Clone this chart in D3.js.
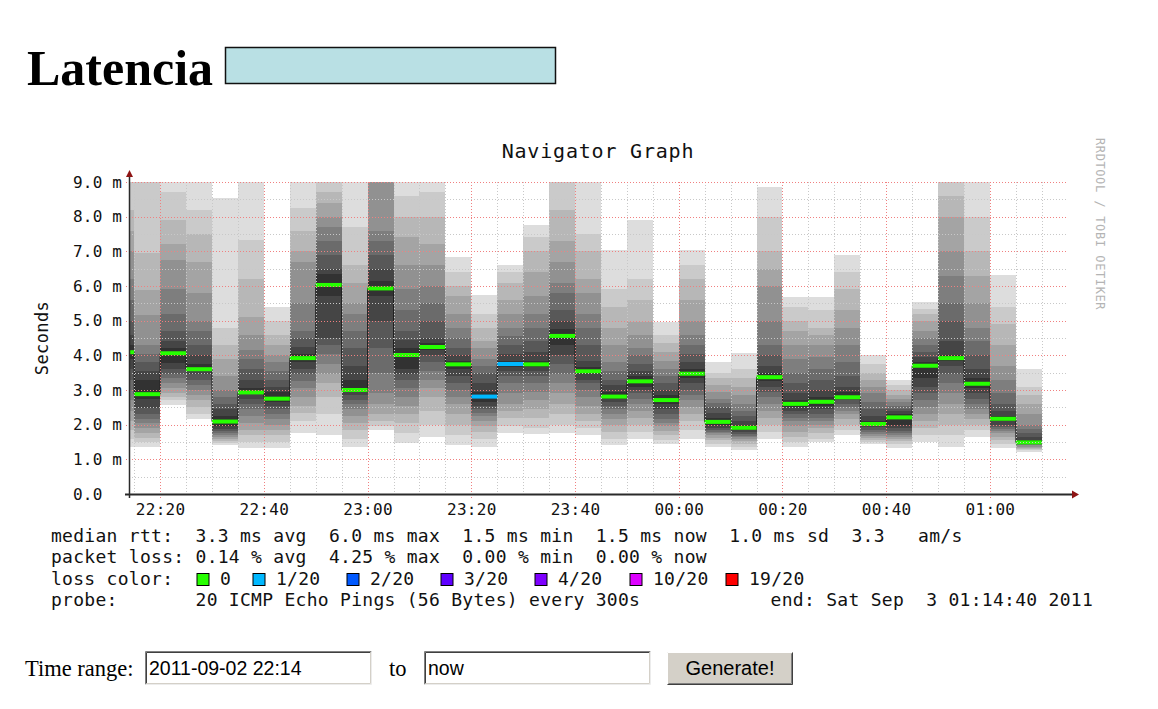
<!DOCTYPE html>
<html>
<head>
<meta charset="utf-8">
<script src="https://cdn.jsdelivr.net/npm/d3@7"></script>
<style>
	body { margin: 0; background: #fff; }
	svg text { white-space: pre; }
</style>
</head>
<body>
<svg id="page" width="1158" height="709"></svg>
<script>
// Time window and 5 minute bins (RRD step 300s)
const startTime = "2011-09-02 22:14:00";
const endTime = "2011-09-03 01:14:40";
const firstBinEnd = "2011-09-02 22:15:00";
const lastBinEnd = "2011-09-03 01:10:00";

// median rtt per bin (ms)
const medianRtt = [4.09, 2.88, 4.06, 3.60, 2.09, 2.93, 2.75, 3.92, 6.03, 3.00, 5.93, 4.01,
	4.24, 3.74, 2.81, 3.75, 3.74, 4.56, 3.54, 2.81, 3.25, 2.71, 3.47, 2.08,
	1.91, 3.37, 2.60, 2.66, 2.79, 2.02, 2.21, 3.70, 3.92, 3.18, 2.17, 1.49];

// lost pings out of 20 per bin
const lossCount = [0, 0, 0, 0, 0, 0, 0, 0, 0, 0, 0, 0,
	0, 0, 1, 1, 0, 0, 0, 0, 0, 0, 0, 0,
	0, 0, 0, 0, 0, 0, 0, 0, 0, 0, 0, 0];

// 20 sorted ping times per bin (ms), the "smoke"
const pingTimes = [
	[1.37, 1.6, 1.85, 2.1, 2.4, 2.7, 3.0, 3.3, 3.6, 3.9, 4.3, 4.6, 5.0, 5.6, 6.2, 7.0, 7.6, 8.2, 9.2, 9.6],
	[1.37, 1.5, 1.62, 1.75, 1.9, 2.05, 2.15, 2.3, 2.48, 2.75, 3.3, 3.55, 3.8, 4.05, 4.3, 5.16, 5.88, 6.95, 9.2, 9.5],
	[2.57, 2.7, 2.8, 2.9, 3.05, 3.2, 3.35, 3.45, 3.6, 3.77, 4.2, 4.4, 4.7, 5.2, 5.9, 6.75, 7.2, 7.9, 8.7, 9.5],
	[2.15, 2.3, 2.5, 2.7, 2.85, 3.0, 3.15, 3.3, 3.45, 3.55, 3.75, 4.0, 4.3, 4.7, 5.0, 5.8, 6.7, 7.5, 8.2, 9.4],
	[1.41, 1.47, 1.53, 1.58, 1.64, 1.70, 1.76, 1.82, 1.88, 1.96, 2.25, 2.45, 2.6, 2.8, 3.0, 3.4, 3.9, 4.3, 4.8, 8.53],
	[1.33, 1.5, 1.7, 1.85, 2.05, 2.25, 2.45, 2.6, 2.75, 2.88, 3.05, 3.3, 3.6, 3.9, 4.15, 4.6, 5.1, 6.2, 7.33, 9.5],
	[1.33, 1.5, 1.7, 1.85, 2.0, 2.15, 2.3, 2.45, 2.55, 2.65, 2.95, 3.1, 3.3, 3.55, 3.8, 4.0, 4.3, 4.6, 5.0, 5.4],
	[1.76, 2.1, 2.35, 2.55, 2.8, 3.05, 3.25, 3.45, 3.6, 3.8, 4.05, 4.25, 4.5, 4.7, 5.5, 6.7, 7.0, 7.6, 8.25, 9.5],
	[1.7, 2.3, 2.8, 3.2, 3.45, 3.75, 4.05, 4.3, 4.5, 5.7, 6.35, 6.5, 6.9, 7.3, 7.7, 8.0, 8.4, 8.7, 9.2, 9.6],
	[1.35, 1.6, 1.85, 2.05, 2.25, 2.45, 2.6, 2.72, 2.85, 2.95, 3.3, 3.7, 4.2, 4.7, 5.2, 5.5, 6.1, 6.6, 7.7, 9.5],
	[1.85, 1.95, 2.1, 2.3, 2.6, 2.9, 3.5, 4.2, 5.0, 5.7, 6.15, 6.5, 6.9, 7.3, 7.6, 9.2, 9.4, 9.6, 9.8, 10.0],
	[1.46, 1.75, 2.05, 2.3, 2.55, 2.8, 3.05, 3.3, 3.45, 3.6, 4.2, 4.45, 4.7, 5.3, 5.9, 6.6, 7.4, 8.0, 8.6, 9.5],
	[1.65, 2.0, 2.4, 2.8, 3.05, 3.3, 3.55, 3.8, 4.0, 4.15, 4.35, 4.5, 5.0, 5.5, 6.0, 6.6, 7.2, 8.0, 8.7, 9.5],
	[1.41, 1.7, 2.0, 2.3, 2.6, 2.8, 3.0, 3.2, 3.4, 3.6, 3.85, 4.0, 4.2, 4.5, 4.8, 5.2, 5.7, 6.0, 6.4, 6.85],
	[1.37, 1.6, 1.8, 1.95, 2.1, 2.25, 2.35, 2.45, 2.55, 2.65, 2.95, 3.2, 3.5, 3.7, 3.9, 4.2, 4.4, 4.8, 5.2, 5.74],
	[1.76, 1.95, 2.2, 2.4, 2.6, 2.9, 3.2, 3.4, 3.55, 3.65, 3.85, 4.05, 4.3, 4.55, 4.8, 5.2, 5.6, 6.1, 6.4, 6.6],
	[1.72, 1.9, 2.2, 2.45, 2.7, 2.95, 3.2, 3.4, 3.55, 3.65, 3.85, 4.1, 4.4, 4.8, 5.2, 5.7, 6.4, 7.0, 7.4, 7.76],
	[1.76, 2.0, 2.3, 2.6, 2.9, 3.2, 3.45, 3.75, 4.0, 4.3, 4.75, 5.0, 5.3, 5.8, 6.1, 6.7, 7.3, 8.2, 9.2, 9.6],
	[1.7, 1.9, 2.1, 2.3, 2.55, 2.8, 3.0, 3.2, 3.3, 3.45, 3.65, 3.85, 4.3, 4.8, 5.2, 5.8, 6.2, 7.0, 7.5, 9.5],
	[1.41, 1.6, 1.8, 2.0, 2.15, 2.3, 2.45, 2.55, 2.65, 2.75, 2.95, 3.15, 3.3, 3.55, 3.8, 4.3, 4.8, 5.4, 5.9, 7.04],
	[1.6, 1.8, 2.0, 2.2, 2.4, 2.6, 2.75, 2.9, 3.0, 3.1, 3.4, 3.55, 3.75, 4.0, 4.2, 4.6, 4.95, 5.6, 6.2, 7.9],
	[1.43, 1.55, 1.7, 1.82, 1.95, 2.05, 2.15, 2.3, 2.45, 2.6, 2.85, 3.0, 3.2, 3.4, 3.6, 3.85, 4.1, 4.35, 4.6, 4.97],
	[1.6, 1.85, 2.1, 2.3, 2.5, 2.7, 2.85, 3.0, 3.2, 3.35, 3.6, 3.8, 4.05, 4.3, 4.6, 5.0, 5.6, 6.2, 6.6, 7.04],
	[1.37, 1.45, 1.55, 1.62, 1.7, 1.76, 1.8, 1.85, 1.9, 1.98, 2.2, 2.35, 2.5, 2.62, 2.75, 2.95, 3.15, 3.35, 3.5, 3.82],
	[1.27, 1.35, 1.45, 1.52, 1.58, 1.63, 1.67, 1.72, 1.78, 1.84, 1.98, 2.1, 2.25, 2.4, 2.6, 2.85, 3.1, 3.35, 3.6, 4.06],
	[1.6, 1.8, 2.0, 2.2, 2.4, 2.6, 2.8, 2.95, 3.1, 3.25, 3.5, 3.7, 4.0, 4.3, 5.0, 6.0, 6.5, 7.0, 8.0, 8.86],
	[1.37, 1.5, 1.65, 1.8, 1.95, 2.1, 2.2, 2.3, 2.4, 2.5, 2.7, 2.9, 3.2, 3.5, 3.9, 4.3, 4.7, 5.0, 5.4, 5.69],
	[1.5, 1.6, 1.75, 1.9, 2.0, 2.1, 2.2, 2.3, 2.45, 2.55, 2.8, 3.0, 3.3, 3.6, 3.95, 4.3, 4.6, 4.8, 5.3, 5.69],
	[1.7, 1.85, 2.0, 2.15, 2.3, 2.4, 2.5, 2.6, 2.7, 2.75, 2.95, 3.1, 3.4, 3.8, 4.3, 4.8, 5.3, 5.9, 6.4, 6.89],
	[1.44, 1.5, 1.56, 1.62, 1.68, 1.73, 1.78, 1.85, 1.92, 1.98, 2.1, 2.25, 2.45, 2.65, 2.9, 3.1, 3.3, 3.5, 3.75, 4.0],
	[1.34, 1.45, 1.52, 1.58, 1.64, 1.7, 1.76, 1.83, 1.9, 2.0, 2.3, 2.38, 2.45, 2.55, 2.65, 2.75, 2.85, 3.0, 3.15, 3.29],
	[1.5, 1.7, 1.9, 2.1, 2.3, 2.5, 2.7, 2.9, 3.1, 3.35, 3.8, 3.95, 4.1, 4.3, 4.5, 4.7, 5.0, 5.2, 5.35, 5.55],
	[1.37, 1.7, 2.0, 2.3, 2.6, 2.9, 3.2, 3.45, 3.7, 3.85, 4.0, 4.4, 5.0, 5.5, 6.3, 7.0, 8.0, 8.6, 9.2, 9.6],
	[1.65, 1.85, 2.0, 2.15, 2.3, 2.45, 2.6, 2.75, 2.9, 3.05, 3.35, 3.6, 4.0, 4.4, 4.8, 5.5, 6.3, 7.0, 8.0, 9.5],
	[1.32, 1.45, 1.55, 1.65, 1.75, 1.82, 1.88, 1.93, 2.0, 2.1, 2.25, 2.4, 2.6, 2.9, 3.3, 3.7, 4.3, 4.9, 5.4, 6.32],
	[1.22, 1.27, 1.31, 1.34, 1.37, 1.4, 1.42, 1.44, 1.46, 1.48, 1.55, 1.65, 1.75, 1.87, 2.0, 2.3, 2.6, 2.85, 3.1, 3.62]
];

// y axis ticks (ms)
const yTicks = [0, 1, 2, 3, 4, 5, 6, 7, 8, 9];

// legend texts
const rttStats = [["3.3", "ms avg"], ["6.0", "ms max"], ["1.5", "ms min"], ["1.5", "ms now"], ["1.0", "ms sd"]];
const amPerSec = "3.3";
const lossStats = [["0.14", "% avg"], ["4.25", "% max"], ["0.00", "% min"], ["0.00", "% now"]];
const lossLabels = ["0", "1/20", "2/20", "3/20", "4/20", "10/20", "19/20"];
const lossLevels = [0, 1, 2, 3, 4, 10, 19];
const lossColors = ["#26ff00", "#00b8ff", "#0059ff", "#5e00ff", "#7e00ff", "#dd00ff", "#ff0000"];
const probeText = "20 ICMP Echo Pings (56 Bytes) every 300s";
const endText = "end: Sat Sep  3 01:14:40 2011";

const svg = d3.select("#page");
const mono = "'DejaVu Sans Mono', monospace";

// ---------- page header ----------
svg.append("text")
	.attr("x", 27)
	.attr("y", 85)
	.attr("font-family", "'Liberation Serif', 'Times New Roman', serif")
	.attr("font-weight", "bold")
	.attr("font-size", 50)
	.text("Latencia");

svg.append("rect")
	.attr("x", 225.5)
	.attr("y", 47.5)
	.attr("width", 330)
	.attr("height", 36)
	.attr("fill", "#b9e0e4")
	.attr("stroke", "#111")
	.attr("stroke-width", 1.5);

// ---------- scales ----------
const parse = d3.timeParse("%Y-%m-%d %H:%M:%S");
const t0 = parse(startTime);
const t1 = parse(endTime);

const plot = { left: 129, right: 1066, top: 182, bottom: 494 };

const x = d3.scaleTime()
	.domain([t0, t1])
	.range([plot.left, plot.right]);

const y = d3.scaleLinear()
	.domain([0, 9])
	.range([plot.bottom, plot.top]);

const binEnds = d3.timeMinute.every(5).range(parse(firstBinEnd), d3.timeSecond.offset(parse(lastBinEnd), 1));

const bins = binEnds.map((end, i) => {
	const start = d3.max([t0, d3.timeMinute.offset(end, -5)]);
	return {
		x0: x(start),
		x1: x(end),
		median: medianRtt[i],
		loss: lossCount[i],
		pings: pingTimes[i]
	};
});

svg.append("clipPath")
	.attr("id", "plotClip")
	.append("rect")
	.attr("x", plot.left)
	.attr("y", plot.top)
	.attr("width", plot.right - plot.left + 4)
	.attr("height", plot.bottom - plot.top);

const chart = svg.append("g").attr("clip-path", "url(#plotClip)");

// ---------- smoke ----------
// band k spans ping k .. ping 19-k, outer bands light, inner dark
const half = 10;
const smokeGrey = k => {
	const v = Math.floor(190 / half * (half - (k + 1))) + 50;
	return d3.rgb(v, v, v).formatHex();
};

const bandData = [];
bins.forEach(b => {
	for (let k = 0; k < half; k++) {
		bandData.push({ x0: b.x0, x1: b.x1, lo: b.pings[k], hi: b.pings[19 - k], k: k });
	}
});

chart.selectAll("rect.smoke")
	.data(bandData)
	.enter()
	.append("rect")
	.classed("smoke", true)
	.attr("x", d => d.x0)
	.attr("width", d => d.x1 - d.x0)
	.attr("y", d => y(d.hi))
	.attr("height", d => y(d.lo) - y(d.hi))
	.attr("fill", d => smokeGrey(d.k))
	.attr("shape-rendering", "crispEdges");

// median step line
const stepPoints = bins.map(b => [b.x0, y(b.median)]);
stepPoints.push([bins[bins.length - 1].x1, y(bins[bins.length - 1].median)]);

chart.append("path")
	.attr("d", d3.line().curve(d3.curveStepAfter)(stepPoints))
	.attr("fill", "none")
	.attr("stroke", "#202020")
	.attr("stroke-width", 1);

// ---------- grid (drawn over the smoke, like rrdtool) ----------
const grid = svg.append("g").attr("shape-rendering", "crispEdges");
const minorColor = "#c8c8c8";
const majorColor = "#f08080";
const minorY = d3.range(0.5, 9, 1);
const majorY = yTicks.filter(v => v > 0);
const allMinutes = d3.timeMinute.every(5).range(d3.timeMinute.ceil(t0), t1);
const majorX = allMinutes.filter(t => t.getMinutes() % 20 === 0);
const minorX = allMinutes.filter(t => t.getMinutes() % 20 !== 0);

grid.selectAll("line.minorY")
	.data(minorY)
	.enter()
	.append("line")
	.attr("x1", plot.left)
	.attr("x2", plot.right + 2)
	.attr("y1", d => Math.round(y(d)) + 0.5)
	.attr("y2", d => Math.round(y(d)) + 0.5)
	.attr("stroke", minorColor)
	.attr("stroke-dasharray", "1,2");

grid.selectAll("line.minorX")
	.data(minorX)
	.enter()
	.append("line")
	.attr("x1", d => Math.round(x(d)) + 0.5)
	.attr("x2", d => Math.round(x(d)) + 0.5)
	.attr("y1", plot.top)
	.attr("y2", plot.bottom + 2)
	.attr("stroke", minorColor)
	.attr("stroke-dasharray", "1,2");

grid.selectAll("line.majorY")
	.data(majorY)
	.enter()
	.append("line")
	.attr("x1", plot.left - 3)
	.attr("x2", plot.right + 2)
	.attr("y1", d => Math.round(y(d)) + 0.5)
	.attr("y2", d => Math.round(y(d)) + 0.5)
	.attr("stroke", majorColor)
	.attr("stroke-dasharray", "1,2");

grid.selectAll("line.majorX")
	.data(majorX)
	.enter()
	.append("line")
	.attr("x1", d => Math.round(x(d)) + 0.5)
	.attr("x2", d => Math.round(x(d)) + 0.5)
	.attr("y1", plot.top)
	.attr("y2", plot.bottom + 4)
	.attr("stroke", majorColor)
	.attr("stroke-dasharray", "1,2");

// colored median per loss level
const lossColor = n => {
	let c = lossColors[0];
	lossLevels.forEach((lv, i) => { if (n >= lv) c = lossColors[i]; });
	return c;
};

chart.selectAll("line.median")
	.data(bins)
	.enter()
	.append("line")
	.classed("median", true)
	.attr("x1", d => d.x0)
	.attr("x2", d => d.x1)
	.attr("y1", d => y(d.median))
	.attr("y2", d => y(d.median))
	.attr("stroke", d => lossColor(d.loss))
	.attr("stroke-width", 4);

// ---------- axes ----------
const axisColor = "#2a2a2a";
const arrowColor = "#8e1414";

svg.append("line")
	.attr("x1", plot.left - 4)
	.attr("x2", plot.right + 6)
	.attr("y1", plot.bottom + 0.5)
	.attr("y2", plot.bottom + 0.5)
	.attr("stroke", axisColor)
	.attr("stroke-width", 2);

svg.append("line")
	.attr("x1", plot.left + 0.5)
	.attr("x2", plot.left + 0.5)
	.attr("y1", plot.bottom + 4)
	.attr("y2", plot.top - 6)
	.attr("stroke", axisColor)
	.attr("stroke-width", 1.5);

svg.append("path")
	.attr("d", `M${plot.right + 6},${plot.bottom - 3.5} L${plot.right + 13},${plot.bottom + 0.5} L${plot.right + 6},${plot.bottom + 4.5} Z`)
	.attr("fill", arrowColor);

svg.append("path")
	.attr("d", `M${plot.left - 3},${plot.top - 5} L${plot.left + 0.5},${plot.top - 12} L${plot.left + 4},${plot.top - 5} Z`)
	.attr("fill", arrowColor);

// y tick labels
svg.append("g")
	.selectAll("text")
	.data(yTicks)
	.enter()
	.append("text")
	.attr("x", 73)
	.attr("y", d => y(d) + 5.5)
	.attr("font-family", mono)
	.attr("font-size", 16)
	.attr("letter-spacing", 0.2)
	.attr("fill", "#111")
	.text(d => d === 0 ? "0.0" : `${d.toFixed(1)} m`);

// x tick labels
svg.append("g")
	.selectAll("text")
	.data(majorX)
	.enter()
	.append("text")
	.attr("x", d => x(d) + 0.5)
	.attr("y", 515)
	.attr("text-anchor", "middle")
	.attr("font-family", mono)
	.attr("font-size", 16)
	.attr("letter-spacing", 0.3)
	.attr("fill", "#111")
	.text(d => d3.timeFormat("%H:%M")(d));

// title, unit, watermark
svg.append("text")
	.attr("x", 598)
	.attr("y", 158)
	.attr("text-anchor", "middle")
	.attr("font-family", mono)
	.attr("font-size", 20)
	.attr("letter-spacing", 0.8)
	.attr("fill", "#111")
	.text("Navigator Graph");

svg.append("text")
	.attr("transform", `translate(48, ${(plot.top + plot.bottom) / 2}) rotate(-90)`)
	.attr("text-anchor", "middle")
	.attr("font-family", mono)
	.attr("font-size", 17)
	.attr("letter-spacing", 0.4)
	.attr("fill", "#111")
	.text("Seconds");

svg.append("text")
	.attr("transform", "translate(1096, 138) rotate(90)")
	.attr("font-family", mono)
	.attr("font-size", 12)
	.attr("letter-spacing", 0.6)
	.attr("fill", "#b4b4b4")
	.text("RRDTOOL / TOBI OETIKER");

// ---------- legend ----------
const legend = svg.append("g")
	.attr("font-family", mono)
	.attr("font-size", 18)
	.attr("letter-spacing", 0.28)
	.attr("fill", "#111");

const charW = 11.12;
const legendX = 51;

const line1 = "median rtt:  " + rttStats.map(d => d.join(" ")).join("  ") + "  " + amPerSec + "   am/s";
const line2 = "packet loss: " + lossStats.map(d => d.join(" ")).join("  ");
const line4 = "probe:       " + probeText;

legend.append("text").attr("x", legendX).attr("y", 541.5).text(line1);
legend.append("text").attr("x", legendX).attr("y", 563).text(line2);
legend.append("text").attr("x", legendX).attr("y", 584.5).text("loss color:");
legend.append("text").attr("x", legendX).attr("y", 606).text(line4);
legend.append("text").attr("x", 1093).attr("y", 606).attr("text-anchor", "end").text(endText);

// loss color boxes
const boxX = [197, 253, 347, 441, 535, 630, 726];
const swatch = legend.selectAll("g.swatch")
	.data(lossLabels)
	.enter()
	.append("g")
	.attr("transform", (d, i) => `translate(${boxX[i]}, 573.5)`);

swatch.append("rect")
	.attr("width", 12)
	.attr("height", 12)
	.attr("fill", (d, i) => lossColors[i])
	.attr("stroke", "#000")
	.attr("stroke-width", 1);

swatch.append("text")
	.attr("x", 23)
	.attr("y", 11)
	.text(d => d);

// ---------- form ----------
const serif = "'Liberation Serif', 'Times New Roman', serif";
const sans = "'Liberation Sans', Arial, sans-serif";

svg.append("text")
	.attr("x", 25)
	.attr("y", 676)
	.attr("font-family", serif)
	.attr("font-size", 22.5)
	.text("Time range:");

svg.append("text")
	.attr("x", 389)
	.attr("y", 676)
	.attr("font-family", serif)
	.attr("font-size", 22.5)
	.text("to");

function inputBox(x0, value) {
	const g = svg.append("g").attr("transform", `translate(${x0}, 651)`);
	g.append("rect").attr("width", 227).attr("height", 34).attr("fill", "#fff");
	g.append("path").attr("d", "M0.5,33.5 V0.5 H226.5").attr("fill", "none").attr("stroke", "#808080");
	g.append("path").attr("d", "M1.5,32.5 V1.5 H225.5").attr("fill", "none").attr("stroke", "#404040");
	g.append("path").attr("d", "M0.5,33.5 H226.5 V0.5").attr("fill", "none").attr("stroke", "#ececec");
	g.append("path").attr("d", "M1.5,32.5 H225.5 V1.5").attr("fill", "none").attr("stroke", "#d4d0c8");
	g.append("text")
		.attr("x", 4)
		.attr("y", 24)
		.attr("font-family", sans)
		.attr("font-size", 19.5)
		.attr("fill", "#000")
		.text(value);
}

inputBox(145, "2011-09-02 22:14");
inputBox(424, "now");

const btn = svg.append("g").attr("transform", "translate(667, 652)");
btn.append("rect").attr("width", 126).attr("height", 33).attr("fill", "#d4d0c8");
btn.append("path").attr("d", "M0.5,32.5 V0.5 H125.5").attr("fill", "none").attr("stroke", "#ffffff");
btn.append("path").attr("d", "M0.5,32.5 H125.5 V0.5").attr("fill", "none").attr("stroke", "#404040");
btn.append("path").attr("d", "M1.5,31.5 H124.5 V1.5").attr("fill", "none").attr("stroke", "#808080");
btn.append("text")
	.attr("x", 63)
	.attr("y", 23)
	.attr("text-anchor", "middle")
	.attr("font-family", sans)
	.attr("font-size", 20)
	.attr("fill", "#000")
	.text("Generate!");
</script>
</body>
</html>
